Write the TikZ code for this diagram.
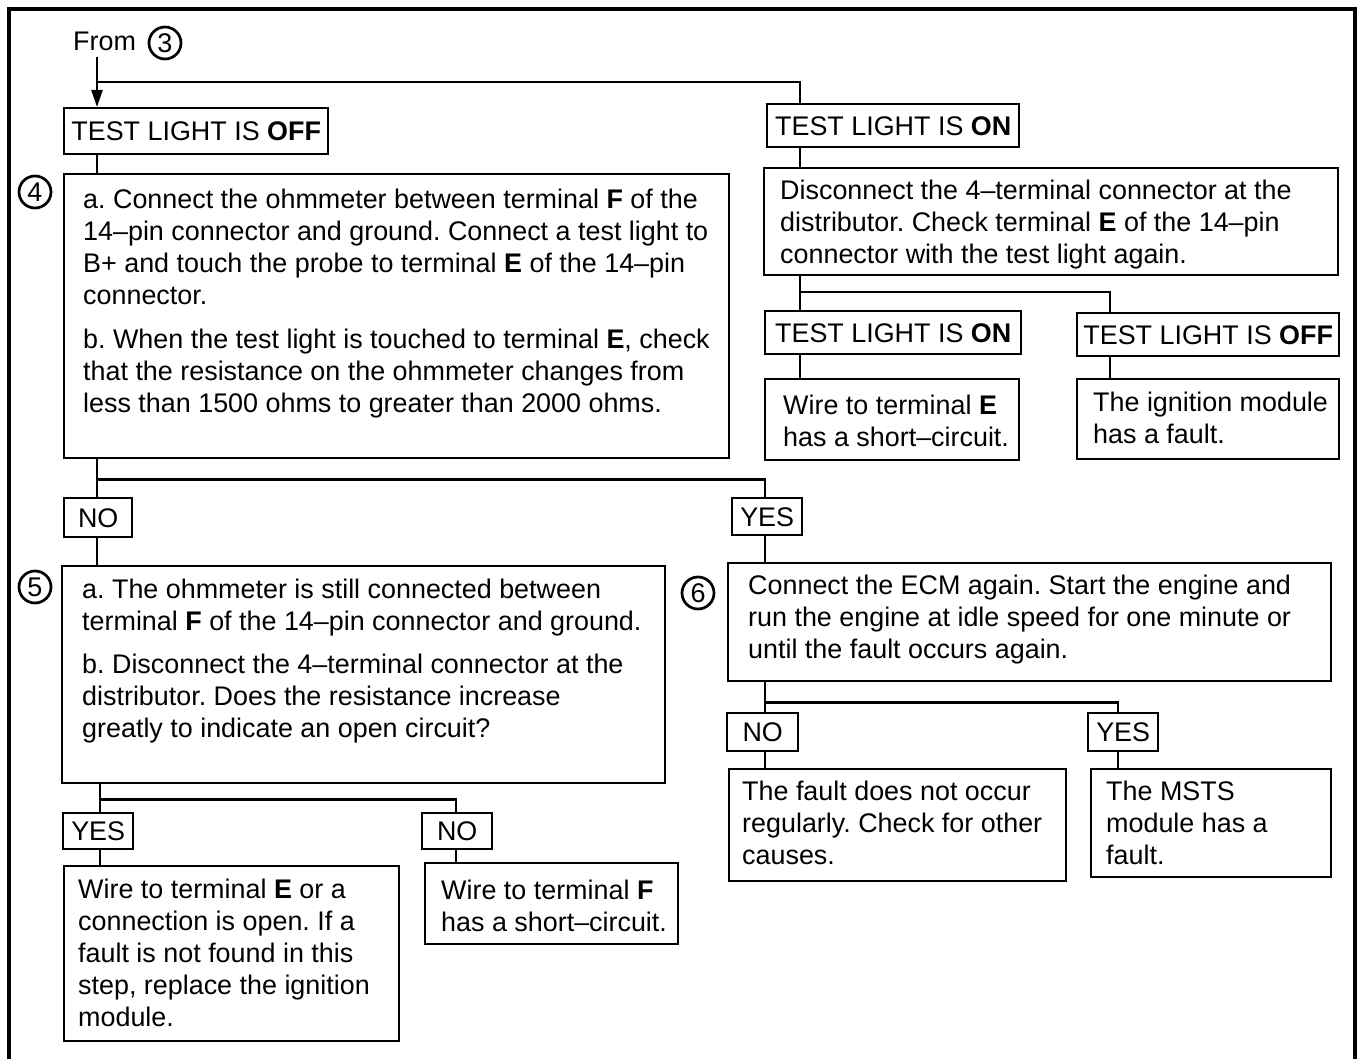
\documentclass[tikz,border=0pt]{standalone}
\usepackage{fontspec}
\setmainfont{Liberation Sans}
\usetikzlibrary{arrows.meta}
\newcommand\flowfont{\fontsize{26.9pt}{32pt}\selectfont\frenchspacing}
\newcommand\numfont{\fontsize{27pt}{29pt}\selectfont}
\newcommand\fl{\rule{0pt}{20pt}}
\begin{document}
\begin{tikzpicture}[x=1pt,y=-1pt,
  stepbox/.style={draw, line width=2.4pt, inner sep=0pt, anchor=north west},
  body/.style={inner sep=0pt, anchor=north west, align=left, font=\flowfont},
  tag/.style={draw, line width=2.4pt, inner sep=0pt, anchor=north west, font=\flowfont, text height=19pt, text depth=0pt},
  num/.style={draw, circle, line width=2.7pt, inner sep=0pt, minimum size=32pt, font=\numfont},
  link/.style={line width=2.4pt},
]
\useasboundingbox (0,0) rectangle (1362,1059);
\fill[white] (0,0) rectangle (1362,1059);

% outer frame
\draw[line width=4.5pt, line join=miter] (9,1059) -- (9,9) -- (1355,9) -- (1355,1059);

% trunk positions of the connectors
\coordinate (ka) at (97,0);
\coordinate (kb) at (800,0);
\coordinate (kc) at (1110,0);
\coordinate (kd) at (765,0);
\coordinate (ke) at (100,0);
\coordinate (kf) at (456,0);
\coordinate (kg) at (1118,0);

% entry
\node[inner sep=0pt, anchor=base west, font=\flowfont] (fromlbl) at (73,51) {From};
\node[num] (n3) at (165,43) {3};
\coordinate (fromfoot) at (97,57);
\coordinate (split0) at (97,82);

% first level
\node[tag, minimum width=264pt, minimum height=46pt] (off1) at (63,107) {TEST LIGHT IS \textbf{OFF}};
\node[tag, minimum width=252pt, minimum height=43pt] (on1) at (766,103) {TEST LIGHT IS \textbf{ON}};

% step 4
\node[num] (n4) at (35,192) {4};
\node[stepbox, minimum width=665pt, minimum height=284pt] (s4) at (63,173) {};
\node[body] (t4) at (83,188) {\fl a. Connect the ohmmeter between terminal \textbf{F} of the\\
14–pin connector and ground. Connect a test light to\\
B+ and touch the probe to terminal \textbf{E} of the 14–pin\\
connector.\\[12pt]
b. When the test light is touched to terminal \textbf{E}, check\\
that the resistance on the ohmmeter changes from\\
less than 1500 ohms to greater than 2000 ohms.};

% test light on branch
\node[stepbox, minimum width=574pt, minimum height=107pt] (r1) at (763,167) {};
\node[body] (tr1) at (780,179) {\fl Disconnect the 4–terminal connector at the\\
distributor. Check terminal \textbf{E} of the 14–pin\\
connector with the test light again.};
\node[tag, minimum width=256pt, minimum height=43pt] (on2) at (764,310) {TEST LIGHT IS \textbf{ON}};
\node[tag, minimum width=262pt, minimum height=43pt] (off2) at (1076,312) {TEST LIGHT IS \textbf{OFF}};
\node[stepbox, minimum width=254pt, minimum height=81pt] (r2) at (764,378) {};
\node[body] (tr2) at (783,394) {\fl Wire to terminal \textbf{E}\\has a short–circuit.};
\node[stepbox, minimum width=262pt, minimum height=80pt] (r3) at (1076,378) {};
\node[body] (tr3) at (1093,391) {\fl The ignition module\\has a fault.};

% answers of step 4
\node[tag, minimum width=68pt, minimum height=39pt] (no1) at (63,497) {NO};
\node[tag, minimum width=70pt, minimum height=37pt] (yes1) at (731,497) {YES};

% step 5
\node[num] (n5) at (35,587) {5};
\node[stepbox, minimum width=603pt, minimum height=217pt] (s5) at (61,565) {};
\node[body] (t5) at (82,578) {\fl a. The ohmmeter is still connected between\\
terminal \textbf{F} of the 14–pin connector and ground.\\[11pt]
b. Disconnect the 4–terminal connector at the\\
distributor. Does the resistance increase\\
greatly to indicate an open circuit?};

% step 6
\node[num] (n6) at (698,593) {6};
\node[stepbox, minimum width=603pt, minimum height=118pt] (s6) at (727,562) {};
\node[body] (t6) at (748,574) {\fl Connect the ECM again. Start the engine and\\
run the engine at idle speed for one minute or\\
until the fault occurs again.};

% answers of step 6
\node[tag, minimum width=71pt, minimum height=38pt] (no2) at (726,712) {NO};
\node[tag, minimum width=70pt, minimum height=38pt] (yes2) at (1087,712) {YES};
\node[stepbox, minimum width=337pt, minimum height=112pt] (r4) at (728,768) {};
\node[body] (tr4) at (742,780) {\fl The fault does not occur\\regularly. Check for other\\causes.};
\node[stepbox, minimum width=240pt, minimum height=108pt] (r5) at (1090,768) {};
\node[body] (tr5) at (1106,780) {\fl The MSTS\\module has a\\fault.};

% answers of step 5
\node[tag, minimum width=70pt, minimum height=36pt] (yes3) at (62,812) {YES};
\node[tag, minimum width=70pt, minimum height=36pt] (no3) at (421,812) {NO};
\node[stepbox, minimum width=335pt, minimum height=175pt] (r6) at (63,865) {};
\node[body] (tr6) at (78,878) {\fl Wire to terminal \textbf{E} or a\\
connection is open. If a\\
fault is not found in this\\
step, replace the ignition\\
module.};
\node[stepbox, minimum width=253pt, minimum height=81pt] (r7) at (424,862) {};
\node[body] (tr7) at (441,879) {\fl Wire to terminal \textbf{F}\\has a short–circuit.};

% connectors
\draw[link, -{Triangle[length=17pt, width=11pt]}] (fromfoot) -- (fromfoot |- off1.north);
\draw[link] (split0) -| (on1.north -| kb);
\draw[link] (off1.south -| ka) -- (s4.north -| ka);
\draw[link] (on1.south -| kb) -- (r1.north -| kb);
\draw[link] (r1.south -| kb) -- (on2.north -| kb);
\draw[link] (on2.north -| kb) ++(0,-18) -| (off2.north -| kc);
\draw[link] (on2.south -| kb) -- (r2.north -| kb);
\draw[link] (off2.south -| kc) -- (r3.north -| kc);
\draw[link] (s4.south -| ka) -- (no1.north -| ka);
\draw[link] (s4.south -| ka) ++(0,20) -| (yes1.north -| kd);
\draw[link] (no1.south -| ka) -- (s5.north -| ka);
\draw[link] (yes1.south -| kd) -- (s6.north -| kd);
\draw[link] (s5.south -| ke) -- (yes3.north -| ke);
\draw[link] (s5.south -| ke) ++(0,15) -| (no3.north -| kf);
\draw[link] (yes3.south -| ke) -- (r6.north -| ke);
\draw[link] (no3.south -| kf) -- (r7.north -| kf);
\draw[link] (s6.south -| kd) -- (no2.north -| kd);
\draw[link] (s6.south -| kd) ++(0,20) -| (yes2.north -| kg);
\draw[link] (no2.south -| kd) -- (r4.north -| kd);
\draw[link] (yes2.south -| kg) -- (r5.north -| kg);
\end{tikzpicture}
\end{document}
